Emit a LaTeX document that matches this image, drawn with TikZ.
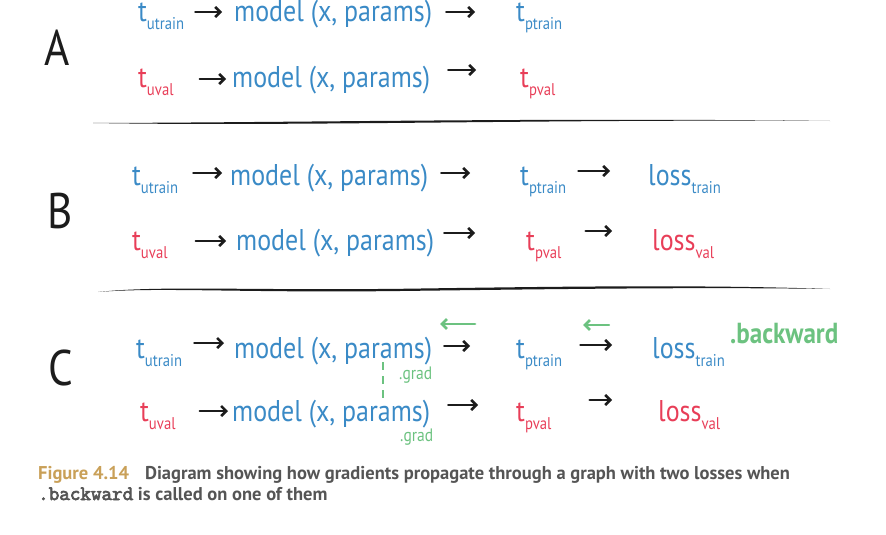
\documentclass[tikz,border=0pt]{standalone}
\usepackage{fontspec}
\setmainfont{PT Sans}
\newfontfamily\hand[FakeStretch=0.865]{PT Sans}
\newfontfamily\capfont{PT Sans}
\newfontfamily\capmono[FakeBold=3.5]{Latin Modern Mono}
\usetikzlibrary{arrows.meta}
\definecolor{hblue}{RGB}{58,138,198}
\definecolor{hred}{RGB}{232,62,88}
\definecolor{hgreen}{RGB}{108,194,128}
\definecolor{ink}{RGB}{28,28,28}
\definecolor{gold}{RGB}{201,160,88}
\definecolor{capgray}{RGB}{85,85,85}
\newcommand{\tsub}[2]{#1\raisebox{-8pt}{\fontsize{17}{17}\selectfont #2}}
\tikzset{
  txt/.style={anchor=base west, inner sep=0pt, font=\hand\fontsize{30}{30}\selectfont},
  tb/.style={txt, text=hblue},
  tr/.style={txt, text=hred},
  lbl/.style={anchor=base west, inner sep=0pt, text=ink, font=\hand\fontsize{50}{50}\selectfont},
  arr/.style={draw=ink, line width=2.6pt, line cap=round, -{Straight Barb[length=5pt,width=10pt,line width=2.6pt]}},
  garr/.style={draw=hgreen, line width=2.8pt, line cap=round, {Straight Barb[length=5pt,width=10pt,line width=2.8pt]}-},
  grad/.style={anchor=base west, inner sep=0pt, text=hgreen, font=\hand\fontsize{18}{18}\selectfont},
  capt/.style={anchor=base west, inner sep=0pt, font=\capfont\bfseries\fontsize{18.5}{18.5}\selectfont},
}
\begin{document}
\begin{tikzpicture}[x=1pt,y=-1pt]
\useasboundingbox (0,0) rectangle (886,535);
% ---------- A ----------
\node[lbl] (la) at (44,66) {A};
\node[tb] (a1t) at (138,22) {\tsub{t}{utrain}};
\node[tb] (a1m) at (234,22) {model (x, params)};
\node[tb] (a1p) at (516,22) {\tsub{t}{ptrain}};
\draw[arr, shorten <=11pt, shorten >=12pt] (a1t.east |- 0,12) -- (a1m.west |- 0,12);
\draw[arr, shorten <=14pt, shorten >=41pt] (a1m.east |- 0,12) -- (a1p.west |- 0,12);
\node[tr] (a2t) at (138,88) {\tsub{t}{uval}};
\node[tb] (a2m) at (232,88) {model (x, params)};
\node[tr] (a2p) at (520,88) {\tsub{t}{pval}};
\draw[arr, shorten <=26pt, shorten >=6pt] (a2t.east |- 0,79) -- (a2m.west |- 0,79);
\draw[arr, shorten <=18pt, shorten >=44pt] (a2m.east |- 0,70) -- (a2p.west |- 0,70);
\fill[ink] (93,123) .. controls (300,126.5) and (550,119) .. (830,121)
  .. controls (550,117.5) and (300,122.5) .. (93,123) -- cycle;
% ---------- B ----------
\node[lbl] (lb) at (47,228) {B};
\node[tb] (b1t) at (132,185) {\tsub{t}{utrain}};
\node[tb] (b1m) at (230,185) {model (x, params)};
\node[tb] (b1p) at (520,185) {\tsub{t}{ptrain}};
\node[tb] (b1l) at (648,185) {\tsub{loss}{train}};
\draw[arr, shorten <=15pt, shorten >=8pt] (b1t.east |- 0,173) -- (b1m.west |- 0,173);
\draw[arr, shorten <=13pt, shorten >=50pt] (b1m.east |- 0,173) -- (b1p.west |- 0,173);
\draw[arr, shorten <=12pt, shorten >=38pt] (b1p.east |- 0,171) -- (b1l.west |- 0,171);
\node[tr] (b2t) at (132,250) {\tsub{t}{uval}};
\node[tb] (b2m) at (236,250) {model (x, params)};
\node[tr] (b2p) at (526,250) {\tsub{t}{pval}};
\node[tr] (b2l) at (652,250) {\tsub{loss}{val}};
\draw[arr, shorten <=28pt, shorten >=10pt] (b2t.east |- 0,241) -- (b2m.west |- 0,241);
\draw[arr, shorten <=10pt, shorten >=51pt] (b2m.east |- 0,233) -- (b2p.west |- 0,233);
\draw[arr, shorten <=24pt, shorten >=40pt] (b2p.east |- 0,231) -- (b2l.west |- 0,231);
\fill[ink] (98,292) .. controls (160,287) and (240,293) .. (400,291)
  .. controls (560,289) and (700,287) .. (830,289)
  .. controls (700,284.5) and (560,286.5) .. (400,288.8)
  .. controls (240,290.5) and (160,285.5) .. (98,292) -- cycle;
% ---------- C ----------
\node[lbl] (lc) at (48,385) {C};
\node[tb] (c1t) at (136,358) {\tsub{t}{utrain}};
\node[tb] (c1m) at (234,358) {model (x, params)};
\node[tb] (c1p) at (516,358) {\tsub{t}{ptrain}};
\node[tb] (c1l) at (652,358) {\tsub{loss}{train}};
\draw[arr, shorten <=12pt, shorten >=10pt] (c1t.east |- 0,343) -- (c1m.west |- 0,343);
\draw[arr, shorten <=12pt, shorten >=46pt] (c1m.east |- 0,346) -- (c1p.west |- 0,346);
\draw[arr, shorten <=18pt, shorten >=40pt] (c1p.east |- 0,345) -- (c1l.west |- 0,345);
\node[anchor=base west, inner sep=0pt, text=hgreen, font=\hand\bfseries\fontsize{29}{29}\selectfont] (bw) at (730,343) {.backward};
\coordinate (g1a) at (440,324);
\coordinate (g1b) at (475,324);
\coordinate (g2a) at (583,325);
\coordinate (g2b) at (609,325);
\draw[garr] (g1a) -- (g1b);
\draw[garr, line width=2.2pt] (g2a) -- (g2b);
\node[tr] (c2t) at (140,421) {\tsub{t}{uval}};
\node[tb] (c2m) at (232,421) {model (x, params)};
\node[tr] (c2p) at (516,421) {\tsub{t}{pval}};
\node[tr] (c2l) at (658,421) {\tsub{loss}{val}};
\draw[arr, shorten <=24pt, shorten >=4pt] (c2t.east |- 0,411) -- (c2m.west |- 0,411);
\draw[arr, shorten <=18pt, shorten >=38pt] (c2m.east |- 0,405) -- (c2p.west |- 0,405);
\draw[arr, shorten <=38pt, shorten >=46pt] (c2p.east |- 0,400) -- (c2l.west |- 0,400);
\node[grad] (gr1) at (399,379) {.grad};
\node[grad] (gr2) at (400,441) {.grad};
\coordinate (d1) at (383,362);
\coordinate (d2) at (383,398);
\draw[hgreen, line width=2.2pt, dash pattern=on 8pt off 6pt] (d1) -- (d2);
% ---------- caption ----------
\node[capt] (cap1) at (38,479)
  {\textcolor{gold}{Figure 4.14}\hspace{16pt}\textcolor{capgray}{Diagram showing how gradients propagate through a graph with two losses when}};
\node[capt, text=capgray] (cap2) at (38,500)
  {{\capmono\fontsize{20.5}{20.5}\selectfont .backward} is called on one of them};
\end{tikzpicture}
\end{document}
